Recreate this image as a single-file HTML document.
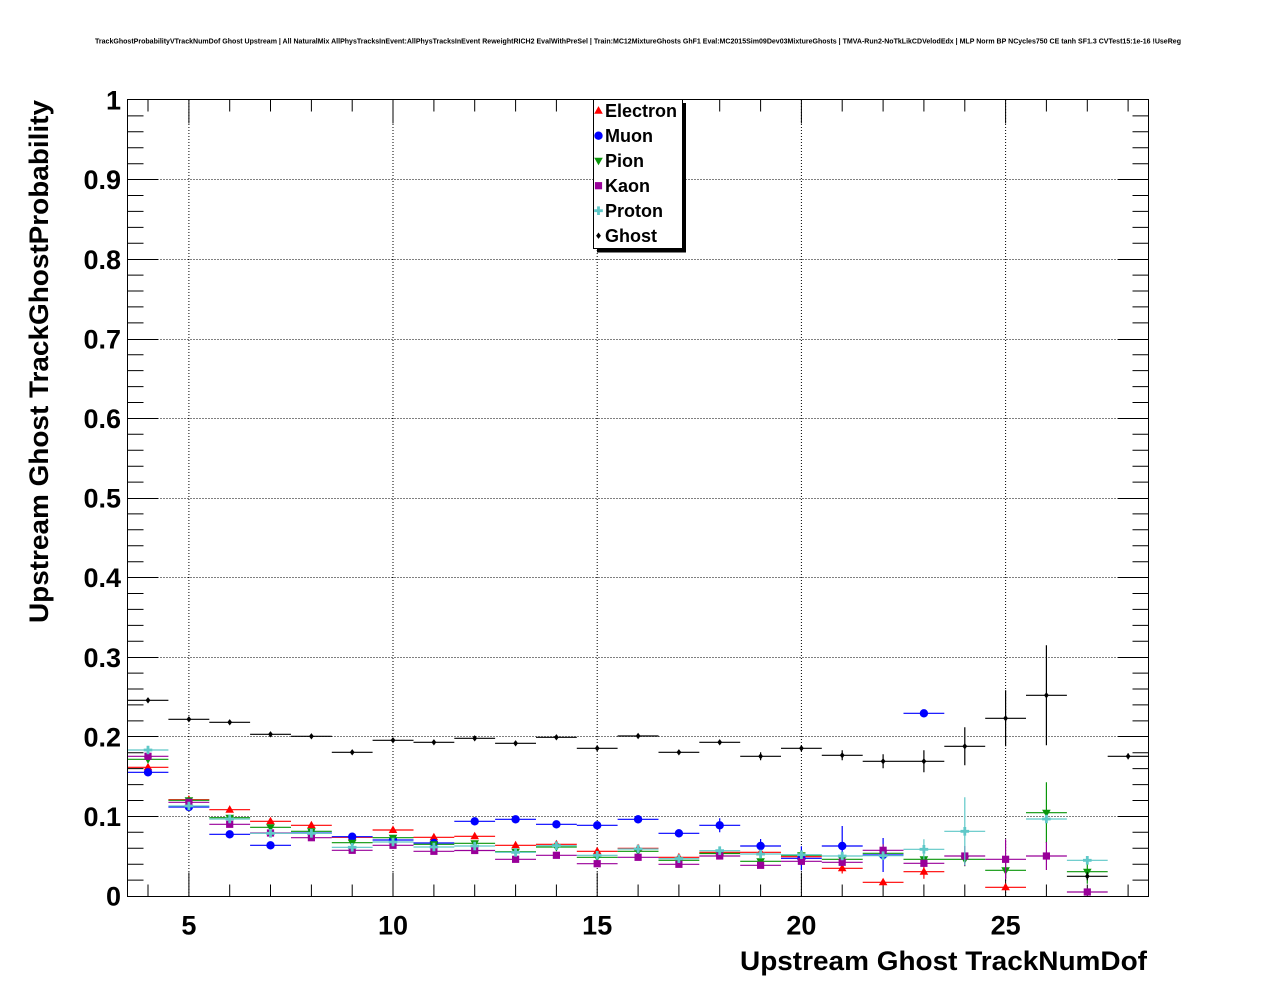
<!DOCTYPE html>
<html><head><meta charset="utf-8"><style>
html,body{margin:0;padding:0;background:#fff;}
svg{display:block;}
text{font-family:"Liberation Sans",Arial,sans-serif;font-weight:bold;fill:#000;}
</style></head><body>
<svg width="1276" height="996" viewBox="0 0 1276 996" xmlns="http://www.w3.org/2000/svg">
<defs>
<polygon id="eu" points="0,-4.6 4.3,3 -4.3,3" fill="#ff0000"/>
<circle id="mu" r="4.2" fill="#0000ff"/>
<polygon id="pi" points="0,4.6 4.3,-3 -4.3,-3" fill="#0a960a"/>
<rect id="ka" x="-3.6" y="-3.6" width="7.2" height="7.2" fill="#990099"/>
<path id="pr" d="M-1.4,-4.3H1.4V-1.4H4.3V1.4H1.4V4.3H-1.4V1.4H-4.3V-1.4H-1.4Z" fill="#5fc8c8"/>
<polygon id="gh" points="0,-3.2 2.4,0 0,3.2 -2.4,0" fill="#000"/>
</defs>
<rect width="1276" height="996" fill="#fff"/>
<text x="95" y="43.5" font-size="7.3" textLength="1086" lengthAdjust="spacingAndGlyphs">TrackGhostProbabilityVTrackNumDof Ghost Upstream | All NaturalMix AllPhysTracksInEvent:AllPhysTracksInEvent ReweightRICH2 EvalWithPreSel | Train:MC12MixtureGhosts GhF1 Eval:MC2015Sim09Dev03MixtureGhosts | TMVA-Run2-NoTkLikCDVelodEdx | MLP Norm BP NCycles750 CE tanh SF1.3 CVTest15:1e-16 !UseReg</text>

<!-- grid -->
<g stroke="#000" stroke-width="1" stroke-dasharray="1,2" fill="none">
<path d="M188.9 100V896M393 100V896M597.2 100V896M801.4 100V896M1005.6 100V896"/>
<path d="M127.5 816.5H1148.5M127.5 736.5H1148.5M127.5 657.5H1148.5M127.5 577.5H1148.5M127.5 498.5H1148.5M127.5 418.5H1148.5M127.5 339.5H1148.5M127.5 259.5H1148.5M127.5 179.5H1148.5"/>
</g>

<!-- ticks -->
<g stroke="#000" stroke-width="1" fill="none">
<path d="M127.5 816.5h31M127.5 736.5h31M127.5 657.5h31M127.5 577.5h31M127.5 498.5h31M127.5 418.5h31M127.5 339.5h31M127.5 259.5h31M127.5 179.5h31"/>
<path d="M1148.5 816.5h-31M1148.5 736.5h-31M1148.5 657.5h-31M1148.5 577.5h-31M1148.5 498.5h-31M1148.5 418.5h-31M1148.5 339.5h-31M1148.5 259.5h-31M1148.5 179.5h-31"/>
<path d="M127.5 880.1h16M127.5 864.2h16M127.5 848.2h16M127.5 832.3h16M127.5 800.5h16M127.5 784.6h16M127.5 768.6h16M127.5 752.7h16M127.5 720.9h16M127.5 704.9h16M127.5 689h16M127.5 673.1h16M127.5 641.3h16M127.5 625.4h16M127.5 609.4h16M127.5 593.5h16M127.5 561.7h16M127.5 545.8h16M127.5 529.8h16M127.5 513.9h16M127.5 482.1h16M127.5 466.2h16M127.5 450.2h16M127.5 434.3h16M127.5 402.5h16M127.5 386.6h16M127.5 370.6h16M127.5 354.7h16M127.5 322.9h16M127.5 306.9h16M127.5 291h16M127.5 275.1h16M127.5 243.3h16M127.5 227.4h16M127.5 211.4h16M127.5 195.5h16M127.5 163.7h16M127.5 147.8h16M127.5 131.8h16M127.5 115.9h16"/>
<path d="M1148.5 880.1h-16M1148.5 864.2h-16M1148.5 848.2h-16M1148.5 832.3h-16M1148.5 800.5h-16M1148.5 784.6h-16M1148.5 768.6h-16M1148.5 752.7h-16M1148.5 720.9h-16M1148.5 704.9h-16M1148.5 689h-16M1148.5 673.1h-16M1148.5 641.3h-16M1148.5 625.4h-16M1148.5 609.4h-16M1148.5 593.5h-16M1148.5 561.7h-16M1148.5 545.8h-16M1148.5 529.8h-16M1148.5 513.9h-16M1148.5 482.1h-16M1148.5 466.2h-16M1148.5 450.2h-16M1148.5 434.3h-16M1148.5 402.5h-16M1148.5 386.6h-16M1148.5 370.6h-16M1148.5 354.7h-16M1148.5 322.9h-16M1148.5 306.9h-16M1148.5 291h-16M1148.5 275.1h-16M1148.5 243.3h-16M1148.5 227.4h-16M1148.5 211.4h-16M1148.5 195.5h-16M1148.5 163.7h-16M1148.5 147.8h-16M1148.5 131.8h-16M1148.5 115.9h-16"/>
<path d="M188.9 896.5v-24M393 896.5v-24M597.2 896.5v-24M801.4 896.5v-24M1005.6 896.5v-24M188.9 99.5v24M393 99.5v24M597.2 99.5v24M801.4 99.5v24M1005.6 99.5v24"/>
<path d="M148 896.5v-12M229.7 896.5v-12M270.5 896.5v-12M311.4 896.5v-12M352.2 896.5v-12M433.9 896.5v-12M474.7 896.5v-12M515.6 896.5v-12M556.4 896.5v-12M638.1 896.5v-12M678.9 896.5v-12M719.7 896.5v-12M760.6 896.5v-12M842.2 896.5v-12M883.1 896.5v-12M923.9 896.5v-12M964.8 896.5v-12M1046.4 896.5v-12M1087.3 896.5v-12M1128.1 896.5v-12"/>
<path d="M148 99.5v12M229.7 99.5v12M270.5 99.5v12M311.4 99.5v12M352.2 99.5v12M433.9 99.5v12M474.7 99.5v12M515.6 99.5v12M556.4 99.5v12M638.1 99.5v12M678.9 99.5v12M719.7 99.5v12M760.6 99.5v12M842.2 99.5v12M883.1 99.5v12M923.9 99.5v12M964.8 99.5v12M1046.4 99.5v12M1087.3 99.5v12M1128.1 99.5v12"/>
</g>

<!-- Electron -->
<g stroke="#ff0000" stroke-width="1.2" fill="none">
<path d="M127.6 767.3H168.4M168.4 799.7H209.3M209.3 809.7H250.1M250.1 821.3H291M291 825.3H331.8M331.8 837.3H372.6M372.6 830H413.5M413.5 837.3H454.3M454.3 836.3H495.1M495.1 845.3H536M536 844.3H576.8M576.8 851.3H617.6M617.6 848.3H658.5M658.5 857.3H699.3M699.3 852.3H740.2M740.2 852.3H781M781 856.7H821.8M821.8 868.3H862.7M862.7 882.3H903.5M903.5 871.7H944.3M985.2 887.3H1026"/>
<path d="M842.2 863V873.5M883.1 879V885.5M923.9 864.7V878.7M1005.6 884V890.5"/>
</g>
<g>
<use href="#eu" x="148" y="767.3"/><use href="#eu" x="188.9" y="799.7"/><use href="#eu" x="229.7" y="809.7"/><use href="#eu" x="270.5" y="821.3"/><use href="#eu" x="311.4" y="825.3"/><use href="#eu" x="352.2" y="837.3"/><use href="#eu" x="393" y="830"/><use href="#eu" x="433.9" y="837.3"/><use href="#eu" x="474.7" y="836.3"/><use href="#eu" x="515.6" y="845.3"/><use href="#eu" x="556.4" y="844.3"/><use href="#eu" x="597.2" y="851.3"/><use href="#eu" x="638.1" y="848.3"/><use href="#eu" x="678.9" y="857.3"/><use href="#eu" x="719.7" y="852.3"/><use href="#eu" x="760.6" y="852.3"/><use href="#eu" x="801.4" y="856.7"/><use href="#eu" x="842.2" y="868.3"/><use href="#eu" x="883.1" y="882.3"/><use href="#eu" x="923.9" y="871.7"/><use href="#eu" x="1005.6" y="887.3"/>
</g>

<!-- Muon -->
<g stroke="#0000ff" stroke-width="1.2" fill="none">
<path d="M127.6 772.3H168.4M168.4 807H209.3M209.3 834.3H250.1M250.1 845.3H291M291 833H331.8M331.8 836.7H372.6M372.6 840H413.5M413.5 843H454.3M454.3 821.3H495.1M495.1 819.3H536M536 824.3H576.8M576.8 825.3H617.6M617.6 819.3H658.5M658.5 833.3H699.3M699.3 825.3H740.2M740.2 846H781M781 858.3H821.8M821.8 846H862.7M862.7 855H903.5M903.5 713.3H944.3"/>
<path d="M638.1 815.3V823.3M678.9 829.3V837.3M719.7 818.3V832.3M760.6 839V853M801.4 846.3V870.3M842.2 826V866M883.1 838V872"/>
</g>
<g>
<use href="#mu" x="148" y="772.3"/><use href="#mu" x="188.9" y="807"/><use href="#mu" x="229.7" y="834.3"/><use href="#mu" x="270.5" y="845.3"/><use href="#mu" x="311.4" y="833"/><use href="#mu" x="352.2" y="836.7"/><use href="#mu" x="393" y="840"/><use href="#mu" x="433.9" y="843"/><use href="#mu" x="474.7" y="821.3"/><use href="#mu" x="515.6" y="819.3"/><use href="#mu" x="556.4" y="824.3"/><use href="#mu" x="597.2" y="825.3"/><use href="#mu" x="638.1" y="819.3"/><use href="#mu" x="678.9" y="833.3"/><use href="#mu" x="719.7" y="825.3"/><use href="#mu" x="760.6" y="846"/><use href="#mu" x="801.4" y="858.3"/><use href="#mu" x="842.2" y="846"/><use href="#mu" x="883.1" y="855"/><use href="#mu" x="923.9" y="713.3"/>
</g>

<!-- Pion -->
<g stroke="#0a960a" stroke-width="1.2" fill="none">
<path d="M127.6 759.3H168.4M168.4 800.3H209.3M209.3 817.7H250.1M250.1 827.3H291M291 831.3H331.8M331.8 842.7H372.6M372.6 837.7H413.5M413.5 844.3H454.3M454.3 843.3H495.1M495.1 851.7H536M536 847H576.8M576.8 857.3H617.6M617.6 851.3H658.5M658.5 860.3H699.3M699.3 853.5H740.2M740.2 861.3H781M781 855.3H821.8M821.8 859.3H862.7M862.7 853.3H903.5M903.5 859.3H944.3M944.3 859.3H985.2M985.2 870.3H1026M1026 812.7H1066.9M1066.9 871.7H1107.7"/>
<path d="M883.1 849.3V857.3M923.9 854.3V864.3M964.8 852.3V866.3M1005.6 862.3V878.3M1046.4 782.3V843M1087.3 859.7V883.7"/>
</g>
<g>
<use href="#pi" x="148" y="759.3"/><use href="#pi" x="188.9" y="800.3"/><use href="#pi" x="229.7" y="817.7"/><use href="#pi" x="270.5" y="827.3"/><use href="#pi" x="311.4" y="831.3"/><use href="#pi" x="352.2" y="842.7"/><use href="#pi" x="393" y="837.7"/><use href="#pi" x="433.9" y="844.3"/><use href="#pi" x="474.7" y="843.3"/><use href="#pi" x="515.6" y="851.7"/><use href="#pi" x="556.4" y="847"/><use href="#pi" x="597.2" y="857.3"/><use href="#pi" x="638.1" y="851.3"/><use href="#pi" x="678.9" y="860.3"/><use href="#pi" x="719.7" y="853.5"/><use href="#pi" x="760.6" y="861.3"/><use href="#pi" x="801.4" y="855.3"/><use href="#pi" x="842.2" y="859.3"/><use href="#pi" x="883.1" y="853.3"/><use href="#pi" x="923.9" y="859.3"/><use href="#pi" x="964.8" y="859.3"/><use href="#pi" x="1005.6" y="870.3"/><use href="#pi" x="1046.4" y="812.7"/><use href="#pi" x="1087.3" y="871.7"/>
</g>

<!-- Kaon -->
<g stroke="#990099" stroke-width="1.2" fill="none">
<path d="M127.6 756.3H168.4M168.4 802.3H209.3M209.3 824.3H250.1M250.1 833H291M291 837.7H331.8M331.8 850.3H372.6M372.6 845.3H413.5M413.5 851.3H454.3M454.3 850.5H495.1M495.1 859.3H536M536 855.3H576.8M576.8 863.7H617.6M617.6 857.3H658.5M658.5 864.3H699.3M699.3 856H740.2M740.2 865.3H781M781 861.3H821.8M821.8 862.3H862.7M862.7 850.3H903.5M903.5 863.3H944.3M944.3 856H985.2M985.2 859.3H1026M1026 856H1066.9M1066.9 892H1107.7"/>
<path d="M883.1 844.3V856.3M964.8 846V866M1005.6 839.3V879.3M1046.4 842V870"/>
</g>
<g>
<use href="#ka" x="148" y="756.3"/><use href="#ka" x="188.9" y="802.3"/><use href="#ka" x="229.7" y="824.3"/><use href="#ka" x="270.5" y="833"/><use href="#ka" x="311.4" y="837.7"/><use href="#ka" x="352.2" y="850.3"/><use href="#ka" x="393" y="845.3"/><use href="#ka" x="433.9" y="851.3"/><use href="#ka" x="474.7" y="850.5"/><use href="#ka" x="515.6" y="859.3"/><use href="#ka" x="556.4" y="855.3"/><use href="#ka" x="597.2" y="863.7"/><use href="#ka" x="638.1" y="857.3"/><use href="#ka" x="678.9" y="864.3"/><use href="#ka" x="719.7" y="856"/><use href="#ka" x="760.6" y="865.3"/><use href="#ka" x="801.4" y="861.3"/><use href="#ka" x="842.2" y="862.3"/><use href="#ka" x="883.1" y="850.3"/><use href="#ka" x="923.9" y="863.3"/><use href="#ka" x="964.8" y="856"/><use href="#ka" x="1005.6" y="859.3"/><use href="#ka" x="1046.4" y="856"/><use href="#ka" x="1087.3" y="892"/>
</g>

<!-- Proton -->
<g stroke="#5fc8c8" stroke-width="1.2" fill="none">
<path d="M127.6 750H168.4M168.4 806H209.3M209.3 819H250.1M250.1 833.3H291M291 833.3H331.8M331.8 847.3H372.6M372.6 842H413.5M413.5 847H454.3M454.3 846H495.1M495.1 852.3H536M536 845.7H576.8M576.8 855.3H617.6M617.6 849H658.5M658.5 858.7H699.3M699.3 850.7H740.2M740.2 854H781M781 854.7H821.8M821.8 856H862.7M862.7 855.7H903.5M903.5 849.3H944.3M944.3 831.3H985.2M1026 819H1066.9M1066.9 860.3H1107.7"/>
<path d="M923.9 839.3V859.3M964.8 797.3V865.3M1087.3 856.3V864.3"/>
</g>
<g>
<use href="#pr" x="148" y="750"/><use href="#pr" x="188.9" y="806"/><use href="#pr" x="229.7" y="819"/><use href="#pr" x="270.5" y="833.3"/><use href="#pr" x="311.4" y="833.3"/><use href="#pr" x="352.2" y="847.3"/><use href="#pr" x="393" y="842"/><use href="#pr" x="433.9" y="847"/><use href="#pr" x="474.7" y="846"/><use href="#pr" x="515.6" y="852.3"/><use href="#pr" x="556.4" y="845.7"/><use href="#pr" x="597.2" y="855.3"/><use href="#pr" x="638.1" y="849"/><use href="#pr" x="678.9" y="858.7"/><use href="#pr" x="719.7" y="850.7"/><use href="#pr" x="760.6" y="854"/><use href="#pr" x="801.4" y="854.7"/><use href="#pr" x="842.2" y="856"/><use href="#pr" x="883.1" y="855.7"/><use href="#pr" x="923.9" y="849.3"/><use href="#pr" x="964.8" y="831.3"/><use href="#pr" x="1046.4" y="819"/><use href="#pr" x="1087.3" y="860.3"/>
</g>

<!-- Ghost -->
<g stroke="#000" stroke-width="1.2" fill="none">
<path d="M127.6 700.3H168.4M168.4 719.3H209.3M209.3 722.3H250.1M250.1 734.3H291M291 736.3H331.8M331.8 752.3H372.6M372.6 740.3H413.5M413.5 742.3H454.3M454.3 738.3H495.1M495.1 743.3H536M536 737.3H576.8M576.8 748.3H617.6M617.6 736H658.5M658.5 752.3H699.3M699.3 742.3H740.2M740.2 756.3H781M781 748.3H821.8M821.8 755.3H862.7M862.7 761.3H903.5M903.5 761.3H944.3M944.3 746.3H985.2M985.2 718.3H1026M1026 695.3H1066.9M1066.9 876.3H1107.7M1107.7 756.3H1148.5"/>
<path d="M760.6 752.3V760.3M801.4 745.3V751.3M842.2 750.3V760.3M883.1 754.3V768.3M923.9 750.3V772.3M964.8 727.3V765.3M1005.6 690.3V746.3M1046.4 645.3V745.3M1087.3 872.3V880.3M1128.1 753.3V759.3"/>
</g>
<g>
<use href="#gh" x="148" y="700.3"/><use href="#gh" x="188.9" y="719.3"/><use href="#gh" x="229.7" y="722.3"/><use href="#gh" x="270.5" y="734.3"/><use href="#gh" x="311.4" y="736.3"/><use href="#gh" x="352.2" y="752.3"/><use href="#gh" x="393" y="740.3"/><use href="#gh" x="433.9" y="742.3"/><use href="#gh" x="474.7" y="738.3"/><use href="#gh" x="515.6" y="743.3"/><use href="#gh" x="556.4" y="737.3"/><use href="#gh" x="597.2" y="748.3"/><use href="#gh" x="638.1" y="736"/><use href="#gh" x="678.9" y="752.3"/><use href="#gh" x="719.7" y="742.3"/><use href="#gh" x="760.6" y="756.3"/><use href="#gh" x="801.4" y="748.3"/><use href="#gh" x="842.2" y="755.3"/><use href="#gh" x="883.1" y="761.3"/><use href="#gh" x="923.9" y="761.3"/><use href="#gh" x="964.8" y="746.3"/><use href="#gh" x="1005.6" y="718.3"/><use href="#gh" x="1046.4" y="695.3"/><use href="#gh" x="1087.3" y="876.3"/><use href="#gh" x="1128.1" y="756.3"/>
</g>

<!-- frame -->
<rect x="127.5" y="99.5" width="1021" height="797" fill="none" stroke="#000" stroke-width="1"/>

<!-- y labels -->
<g font-size="27" text-anchor="end">
<text x="121" y="905.6">0</text>
<text x="121" y="826">0.1</text>
<text x="121" y="746.4">0.2</text>
<text x="121" y="666.8">0.3</text>
<text x="121" y="587.2">0.4</text>
<text x="121" y="507.6">0.5</text>
<text x="121" y="428">0.6</text>
<text x="121" y="348.4">0.7</text>
<text x="121" y="268.8">0.8</text>
<text x="121" y="189.2">0.9</text>
<text x="121" y="109.6">1</text>
</g>
<!-- x labels -->
<g font-size="27" text-anchor="middle">
<text x="188.9" y="934.5">5</text>
<text x="393" y="934.5">10</text>
<text x="597.2" y="934.5">15</text>
<text x="801.4" y="934.5">20</text>
<text x="1005.6" y="934.5">25</text>
</g>
<text x="740" y="970" font-size="27" textLength="407" lengthAdjust="spacingAndGlyphs">Upstream Ghost TrackNumDof</text>
<text transform="translate(48,623) rotate(-90)" x="0" y="0" font-size="27" textLength="523" lengthAdjust="spacingAndGlyphs">Upstream Ghost TrackGhostProbability</text>

<!-- legend -->
<rect x="597" y="103" width="89" height="149.5" fill="#000"/>
<rect x="593.5" y="99.5" width="89" height="149" fill="#fff" stroke="#000" stroke-width="1"/>
<use href="#eu" x="598.5" y="110.7"/>
<use href="#mu" x="598.5" y="135.7"/>
<use href="#pi" x="598.5" y="160.7"/>
<use href="#ka" x="598.5" y="185.7"/>
<use href="#pr" x="598.5" y="210.7"/>
<use href="#gh" x="598.5" y="235.7"/>
<g font-size="18">
<text x="605" y="117">Electron</text>
<text x="605" y="142">Muon</text>
<text x="605" y="167">Pion</text>
<text x="605" y="192">Kaon</text>
<text x="605" y="217">Proton</text>
<text x="605" y="242">Ghost</text>
</g>
</svg>
</body></html>
